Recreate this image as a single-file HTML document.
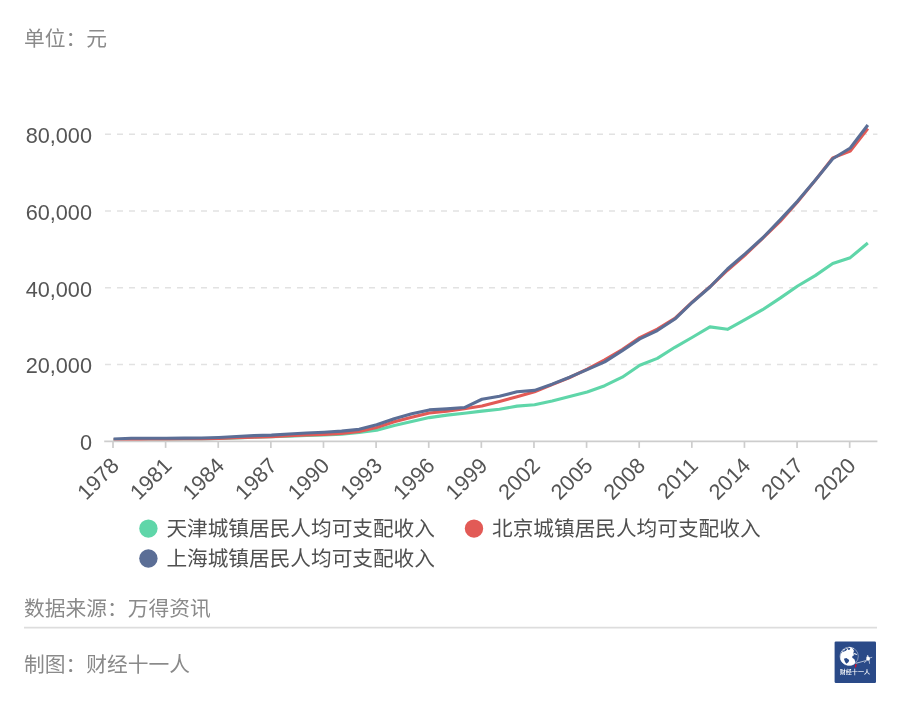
<!DOCTYPE html>
<html lang="zh-CN"><head><meta charset="utf-8"><title>城镇居民人均可支配收入</title>
<style>
html,body{margin:0;padding:0;background:#fff;}
body{width:900px;height:705px;overflow:hidden;position:relative;font-family:"Liberation Sans","Noto Sans CJK SC",sans-serif;}
svg{position:absolute;left:0;top:0;}
.num{font-family:"Liberation Sans","Noto Sans CJK SC",sans-serif;font-size:21.7px;fill:#555;}
.leg{font-family:"Liberation Sans","Noto Sans CJK SC",sans-serif;font-size:20.66px;fill:#505050;}
.ft{font-family:"Liberation Sans","Noto Sans CJK SC",sans-serif;font-size:20.75px;fill:#8a8a8a;}
</style></head><body>
<svg width="900" height="705" viewBox="0 0 900 705">
<line x1="105.0" x2="877.4" y1="364.48" y2="364.48" stroke="#e2e2e2" stroke-width="1.6" stroke-dasharray="6 6"/>
<line x1="105.0" x2="877.4" y1="287.75" y2="287.75" stroke="#e2e2e2" stroke-width="1.6" stroke-dasharray="6 6"/>
<line x1="105.0" x2="877.4" y1="211.03" y2="211.03" stroke="#e2e2e2" stroke-width="1.6" stroke-dasharray="6 6"/>
<line x1="105.0" x2="877.4" y1="134.30" y2="134.30" stroke="#e2e2e2" stroke-width="1.6" stroke-dasharray="6 6"/>
<text x="92" y="450.00" text-anchor="end" class="num">0</text>
<text x="92" y="373.28" text-anchor="end" class="num">20,000</text>
<text x="92" y="296.55" text-anchor="end" class="num">40,000</text>
<text x="92" y="219.83" text-anchor="end" class="num">60,000</text>
<text x="92" y="143.10" text-anchor="end" class="num">80,000</text>
<path d="M113.60,439.71 L131.14,439.59 L148.68,439.18 L166.22,439.13 L183.76,438.99 L201.30,438.88 L218.84,438.41 L236.38,437.84 L253.92,437.10 L271.46,436.65 L289.00,436.10 L306.54,435.53 L324.08,434.91 L341.62,434.12 L359.16,432.44 L376.70,430.23 L394.24,425.40 L411.78,421.59 L429.32,417.61 L446.86,415.15 L464.40,413.22 L481.94,411.15 L499.48,409.27 L517.02,406.13 L534.56,404.68 L552.10,400.94 L569.64,396.51 L587.18,392.01 L604.72,385.71 L622.26,377.20 L639.80,365.31 L657.34,358.40 L674.88,347.31 L692.42,337.22 L709.96,326.85 L727.50,329.33 L745.04,319.64 L762.58,309.68 L780.12,298.14 L797.66,285.98 L815.20,275.63 L832.74,263.58 L850.28,257.67 L867.82,242.99" fill="none" stroke="#5fd6a9" stroke-width="3.1" stroke-linejoin="round" stroke-linecap="butt"/>
<path d="M113.60,439.80 L131.14,439.61 L148.68,439.28 L166.22,439.23 L183.76,439.05 L201.30,438.94 L218.84,438.54 L236.38,437.72 L253.92,437.10 L271.46,436.67 L289.00,435.69 L306.54,435.07 L324.08,434.34 L341.62,433.37 L359.16,431.39 L376.70,427.59 L394.24,421.69 L411.78,417.28 L429.32,413.07 L446.86,411.23 L464.40,408.70 L481.94,405.97 L499.48,401.49 L517.02,396.78 L534.56,391.71 L552.10,384.62 L569.64,377.52 L587.18,369.08 L604.72,359.87 L622.26,349.51 L639.80,337.62 L657.34,329.18 L674.88,318.44 L692.42,301.94 L709.96,286.79 L727.50,270.24 L745.04,255.02 L762.58,238.42 L780.12,221.48 L797.66,201.79 L815.20,180.37 L832.74,157.90 L850.28,151.17 L867.82,128.48" fill="none" stroke="#e25a56" stroke-width="3.1" stroke-linejoin="round" stroke-linecap="butt"/>
<path d="M113.60,439.05 L131.14,438.32 L148.68,438.18 L166.22,438.18 L183.76,438.10 L201.30,437.99 L218.84,437.43 L236.38,436.50 L253.92,435.66 L271.46,435.11 L289.00,434.01 L306.54,433.04 L324.08,432.25 L341.62,431.09 L359.16,429.35 L376.70,424.79 L394.24,418.69 L411.78,413.69 L429.32,409.90 L446.86,408.83 L464.40,407.54 L481.94,399.26 L499.48,396.25 L517.02,391.78 L534.56,390.37 L552.10,384.17 L569.64,377.20 L587.18,369.67 L604.72,361.91 L622.26,350.58 L639.80,338.87 L657.34,330.57 L674.88,319.06 L692.42,302.21 L709.96,287.03 L727.50,269.04 L745.04,253.83 L762.58,238.02 L780.12,219.88 L797.66,201.07 L815.20,180.20 L832.74,158.79 L850.28,147.97 L867.82,124.98" fill="none" stroke="#5b6e96" stroke-width="3.1" stroke-linejoin="round" stroke-linecap="butt"/>
<line x1="104.2" x2="877.4" y1="441.3" y2="441.3" stroke="#cdcdcd" stroke-width="1.7"/>
<line x1="113.00" x2="113.00" y1="441.2" y2="447.9" stroke="#cdcdcd" stroke-width="1.7"/>
<text class="num" text-anchor="end" transform="translate(115.00,461.60) rotate(-45)" x="0" y="7.6">1978</text>
<line x1="165.62" x2="165.62" y1="441.2" y2="447.9" stroke="#cdcdcd" stroke-width="1.7"/>
<text class="num" text-anchor="end" transform="translate(167.62,461.60) rotate(-45)" x="0" y="7.6">1981</text>
<line x1="218.24" x2="218.24" y1="441.2" y2="447.9" stroke="#cdcdcd" stroke-width="1.7"/>
<text class="num" text-anchor="end" transform="translate(220.24,461.60) rotate(-45)" x="0" y="7.6">1984</text>
<line x1="270.86" x2="270.86" y1="441.2" y2="447.9" stroke="#cdcdcd" stroke-width="1.7"/>
<text class="num" text-anchor="end" transform="translate(272.86,461.60) rotate(-45)" x="0" y="7.6">1987</text>
<line x1="323.48" x2="323.48" y1="441.2" y2="447.9" stroke="#cdcdcd" stroke-width="1.7"/>
<text class="num" text-anchor="end" transform="translate(325.48,461.60) rotate(-45)" x="0" y="7.6">1990</text>
<line x1="376.10" x2="376.10" y1="441.2" y2="447.9" stroke="#cdcdcd" stroke-width="1.7"/>
<text class="num" text-anchor="end" transform="translate(378.10,461.60) rotate(-45)" x="0" y="7.6">1993</text>
<line x1="428.72" x2="428.72" y1="441.2" y2="447.9" stroke="#cdcdcd" stroke-width="1.7"/>
<text class="num" text-anchor="end" transform="translate(430.72,461.60) rotate(-45)" x="0" y="7.6">1996</text>
<line x1="481.34" x2="481.34" y1="441.2" y2="447.9" stroke="#cdcdcd" stroke-width="1.7"/>
<text class="num" text-anchor="end" transform="translate(483.34,461.60) rotate(-45)" x="0" y="7.6">1999</text>
<line x1="533.96" x2="533.96" y1="441.2" y2="447.9" stroke="#cdcdcd" stroke-width="1.7"/>
<text class="num" text-anchor="end" transform="translate(535.96,461.60) rotate(-45)" x="0" y="7.6">2002</text>
<line x1="586.58" x2="586.58" y1="441.2" y2="447.9" stroke="#cdcdcd" stroke-width="1.7"/>
<text class="num" text-anchor="end" transform="translate(588.58,461.60) rotate(-45)" x="0" y="7.6">2005</text>
<line x1="639.20" x2="639.20" y1="441.2" y2="447.9" stroke="#cdcdcd" stroke-width="1.7"/>
<text class="num" text-anchor="end" transform="translate(641.20,461.60) rotate(-45)" x="0" y="7.6">2008</text>
<line x1="691.82" x2="691.82" y1="441.2" y2="447.9" stroke="#cdcdcd" stroke-width="1.7"/>
<text class="num" text-anchor="end" transform="translate(693.82,461.60) rotate(-45)" x="0" y="7.6">2011</text>
<line x1="744.44" x2="744.44" y1="441.2" y2="447.9" stroke="#cdcdcd" stroke-width="1.7"/>
<text class="num" text-anchor="end" transform="translate(746.44,461.60) rotate(-45)" x="0" y="7.6">2014</text>
<line x1="797.06" x2="797.06" y1="441.2" y2="447.9" stroke="#cdcdcd" stroke-width="1.7"/>
<text class="num" text-anchor="end" transform="translate(799.06,461.60) rotate(-45)" x="0" y="7.6">2017</text>
<line x1="849.68" x2="849.68" y1="441.2" y2="447.9" stroke="#cdcdcd" stroke-width="1.7"/>
<text class="num" text-anchor="end" transform="translate(851.68,461.60) rotate(-45)" x="0" y="7.6">2020</text>
<circle cx="148.4" cy="528.6" r="9.2" fill="#5fd6a9"/>
<text class="leg" x="166.4" y="536.3000000000001">天津城镇居民人均可支配收入</text>
<circle cx="474" cy="528.6" r="9.2" fill="#e25a56"/>
<text class="leg" x="492.0" y="536.3000000000001">北京城镇居民人均可支配收入</text>
<circle cx="148.4" cy="558.5" r="9.2" fill="#5b6e96"/>
<text class="leg" x="166.4" y="566.2">上海城镇居民人均可支配收入</text>
<text class="ft" x="24" y="45.8">单位：元</text>
<text class="ft" x="24" y="616.0">数据来源：万得资讯</text>
<line x1="24" x2="877" y1="627.7" y2="627.7" stroke="#dddddd" stroke-width="1.7"/>
<text class="ft" x="24" y="672.0">制图：财经十一人</text>
<g transform="translate(834.6,641.4)">
<rect x="0" y="0" width="41.4" height="41.6" rx="1.3" fill="#2a4a88"/>
<circle cx="14.55" cy="14.9" r="9.15" fill="none" stroke="#fff" stroke-width="0.55" opacity="0.75"/>
<path d="M5.61,15.51 L6.04,12.75 L7.31,10.75 L9.44,10.07 L11.36,9.47 L12.21,8.37 L12.85,6.79 L14.55,5.64 L16.55,5.81 L18.17,7.34 L19.36,9.47 L18.68,11.90 L19.44,13.73 L17.83,14.58 L17.66,16.37 L19.78,17.73 L20.80,20.54 L19.66,22.75 L16.55,24.11 L13.06,24.11 L9.66,22.83 L7.10,20.62 L5.83,18.07 Z M9.31,17.30 L11.78,16.71 L14.59,18.49 L14.00,20.71 L11.87,22.41 L10.42,20.71 Z M12.97,7.51 L14.12,6.24 L15.61,6.58 L15.40,8.20 L13.91,8.62 Z" fill="#fff" fill-rule="evenodd"/>
<path d="M18.93,11.60 L20.72,11.94 L22.51,12.79 L22.25,13.64 L20.38,13.22 L19.10,12.62 Z" fill="#fff" opacity="0.9"/>
<path d="M8.04,8.20 L9.66,7.51 L10.85,8.11 L9.66,9.22 L8.38,9.13 Z" fill="#fff" opacity="0.8"/>
<path d="M10.72,6.66 L12.12,6.24 L12.42,7.34 L11.27,7.69 Z" fill="#fff" opacity="0.8"/>
<path d="M6.68,9.98 L7.95,9.22 L8.38,9.98 L7.10,10.75 Z" fill="#fff" opacity="0.8"/>
<path d="M18.17,6.15 L19.44,7.00 L19.10,7.86 L18.00,7.17 Z" fill="#fff" opacity="0.8"/>
<path d="M21.06,21.98 L31.44,19.17" stroke="#fff" stroke-width="0.7" fill="none" opacity="0.9"/>
<path d="M20.38,22.83 L22.08,22.75 L21.74,24.88 L21.06,26.92 L20.29,25.09 Z" fill="#d4102c"/>
<circle cx="33.06" cy="14.58" r="0.8" fill="#fff"/>
<path d="M31.87,15.43 L33.83,15.09 L35.40,16.37 L35.19,18.07 L34.34,19.00 L32.63,19.13 L31.70,17.86 Z" fill="#fff"/>
<path d="M35.19,16.58 L37.23,15.94" stroke="#fff" stroke-width="0.6" fill="none" stroke-linecap="round"/>
<path d="M32.63,18.71 L30.85,20.28 L29.87,21.05" stroke="#fff" stroke-width="0.7" opacity="0.9" fill="none" stroke-linecap="round" stroke-linejoin="round"/>
<path d="M34.34,18.71 L34.76,20.62 L34.93,21.98" stroke="#fff" stroke-width="0.7" opacity="0.9" fill="none" stroke-linecap="round" stroke-linejoin="round"/>
<text x="20.3" y="32.95" text-anchor="middle" font-size="6.1" font-weight="500" fill="#fff" font-family="'Liberation Sans','Noto Sans CJK SC',sans-serif">财经十一人</text>
</g>
</svg>

</body></html>
